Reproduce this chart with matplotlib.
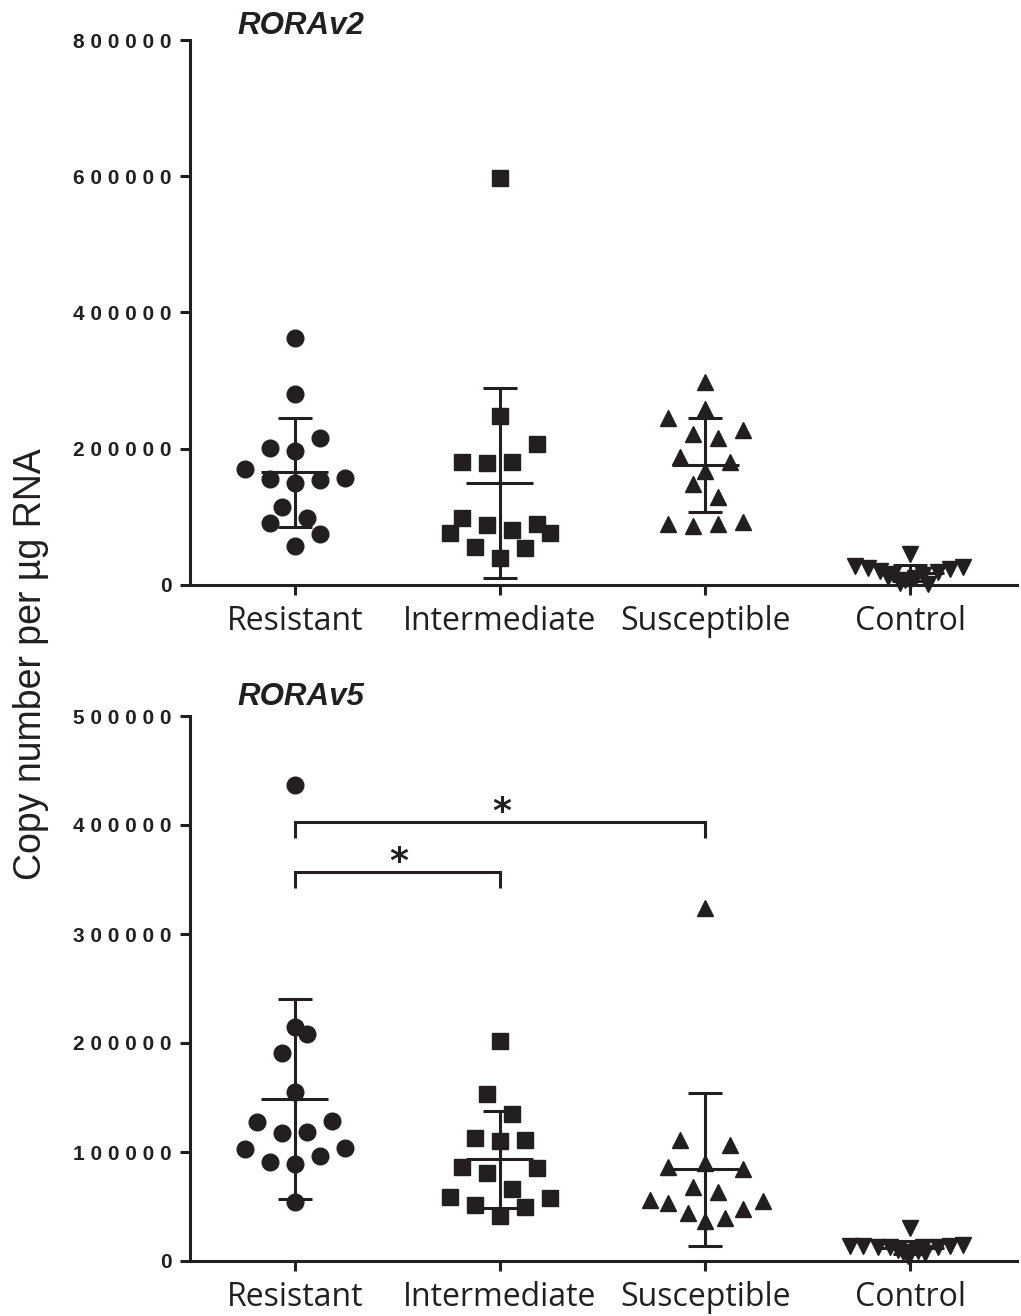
import numpy as np
import matplotlib
matplotlib.use("Agg")
import matplotlib.pyplot as plt

# ── Data (copy number per ug RNA) ─────────────────────────────────────
groups = ["Resistant", "Intermediate", "Susceptible", "Control"]

v2_resistant = [363000, 281000, 216000, 201500, 196700, 169800, 155000, 150000,
                154000, 156600, 115000, 98000, 90500, 74400, 57000]
v2_intermediate = [598000, 248000, 207000, 181000, 178600, 180000, 98800, 88000,
                   80700, 89000, 75900, 75900, 56200, 53800, 39100]
v2_susceptible = [298000, 259000, 244700, 227500, 221700, 215300, 187400, 181000,
                  167300, 148300, 128700, 89500, 87000, 89500, 92000]
v2_control = [46000, 28000, 25000, 20000, 16000, 14000, 19000, 24000,
              26000, 3000, 2000, 8000, 10000, 6000, 12000]

v5_resistant = [436700, 215000, 208000, 190500, 154800, 127200, 128400, 117100,
                118700, 102800, 104000, 91100, 88700, 96600, 54400]
v5_intermediate = [201800, 152900, 134600, 112600, 110400, 111000, 86000, 85000,
                   81000, 65800, 59000, 57500, 51400, 49800, 41600]
v5_susceptible = [323900, 111000, 106400, 86000, 89600, 84400, 67600, 63000,
                  56000, 52900, 55300, 47400, 43700, 37000, 39200]
v5_control = [30000, 14000, 13500, 13000, 12500, 12500, 13000, 13500,
              14500, 8000, 9000, 6000, 10000, 7000, 5000]

# horizontal scatter (in units of one marker step)
jit_v2 = [
    [0, 0, 1, -1, 0, -2, -1, 0, 1, 2, -0.5, 0.5, -1, 1, 0],
    [0, 0, 1.5, -1.5, -0.5, 0.5, -1.5, -0.5, 0.5, 1.5, -2, 2, -1, 1, 0],
    [0, 0, -1.5, 1.5, -0.5, 0.5, -1, 1, 0, -0.5, 0.5, -1.5, -0.5, 0.5, 1.5],
    [0, -2.2, -1.7, -1.2, -0.7, 0.5, 1.1, 1.6, 2.1, -0.4, 0.7, -0.2, 0.2, 0, -0.9],
]
jit_v5 = [
    [0, 0, 0.5, -0.5, 0, -1.5, 1.5, -0.5, 0.5, -2, 2, -1, 0, 1, 0],
    [0, -0.5, 0.5, -1, 0, 1, -1.5, 1.5, -0.5, 0.5, -2, 2, -1, 1, 0],
    [0, -1, 1, -1.5, 0, 1.5, -0.5, 0.5, -2.2, -1.5, 2.3, 1.5, -0.7, 0, 0.8],
    [0, -2.4, -1.9, -1.3, -0.8, 0.5, 1.1, 1.6, 2.1, -0.3, 0.3, 0, -0.5, 0.6, -0.1],
]

v2_ticks = [0, 200000, 400000, 600000, 800000]
v5_ticks = [0, 100000, 200000, 300000, 400000, 500000]

# significance pairs for RORAv5: (group a, group b, bracket height)
v5_sig = [(0, 1, 357000), (0, 2, 403000)]

# ── Style ─────────────────────────────────────────────────────────────
INK = "#231f20"
MARKERS = ["o", "s", "^", "v"]
W, H = 1021, 1316
STEP = 0.122       # jitter step, category units
LW = 2.2

plt.rcParams.update({
    "font.family": ["Liberation Sans", "DejaVu Sans"],
    "text.color": INK,
    "axes.edgecolor": INK,
    "xtick.color": INK,
    "ytick.color": INK,
})


def panel(ax, series, jitter, ticks, ylim):
    for i, (vals, jit) in enumerate(zip(series, jitter)):
        vals = np.asarray(vals, float)
        xs = i + np.asarray(jit) * STEP
        ax.plot(xs, vals, ls="none", marker=MARKERS[i], ms=12, mec=INK, mfc=INK,
                clip_on=False, zorder=3)
        m, sd = vals.mean(), vals.std(ddof=1)
        ax.errorbar(i, m, yerr=sd, fmt="none", ecolor=INK, elinewidth=LW,
                    capsize=12, capthick=LW, clip_on=False, zorder=4)
        ax.hlines(m, i - 0.163, i + 0.163, color=INK, lw=LW, zorder=4)

    ax.set_xlim(-0.51, 3.52)
    ax.set_ylim(*ylim)
    ax.set_xticks(range(len(groups)))
    ax.set_xticklabels(groups, family=["Open Sans", "DejaVu Sans"], fontsize=23)
    ax.set_yticks(ticks)
    # letter-spaced bold numbers, as in the original
    ax.set_yticklabels([" ".join(str(t)) for t in ticks],
                       fontsize=15, fontweight="bold")
    ax.tick_params(axis="both", length=7.2, width=LW, direction="out")
    ax.tick_params(axis="x", pad=7.5)
    ax.tick_params(axis="y", pad=5.8)
    for s in ("top", "right"):
        ax.spines[s].set_visible(False)
    for s in ("left", "bottom"):
        ax.spines[s].set_linewidth(LW)


fig = plt.figure(figsize=(W / 100, H / 100), dpi=100)

ax1 = fig.add_axes([190 / W, 1 - 585 / H, 827 / W, 545 / H])
panel(ax1, [v2_resistant, v2_intermediate, v2_susceptible, v2_control],
      jit_v2, v2_ticks, (0, 800000))

ax2 = fig.add_axes([190 / W, 1 - 1261 / H, 827 / W, 545 / H])
panel(ax2, [v5_resistant, v5_intermediate, v5_susceptible, v5_control],
      jit_v5, v5_ticks, (0, 500000))

# significance brackets
for a, b, h in v5_sig:
    drop = 15000
    ax2.plot([a, a, b, b], [h - drop, h, h, h - drop], color=INK, lw=LW,
             solid_capstyle="butt", solid_joinstyle="miter", zorder=5)
    ax2.annotate("*", xy=((a + b) / 2, h), xytext=(1, 0), textcoords="offset points",
                 ha="center", va="baseline", fontsize=26, fontweight="bold",
                 family=["DejaVu Sans"])

# titles
fig.text(237 / W, 1 - 34 / H, "RORAv2", fontsize=22.5, fontweight="bold",
         style="italic", ha="left", va="baseline")
fig.text(237 / W, 1 - 705 / H, "RORAv5", fontsize=22.5, fontweight="bold",
         style="italic", ha="left", va="baseline")

# shared y label
fig.text(31 / W, 1 - 664 / H, "Copy number per \u00b5g RNA", fontsize=27,
         rotation=90, ha="center", va="center")

fig.savefig("out.png", dpi=100, facecolor="white")
plt.close(fig)
